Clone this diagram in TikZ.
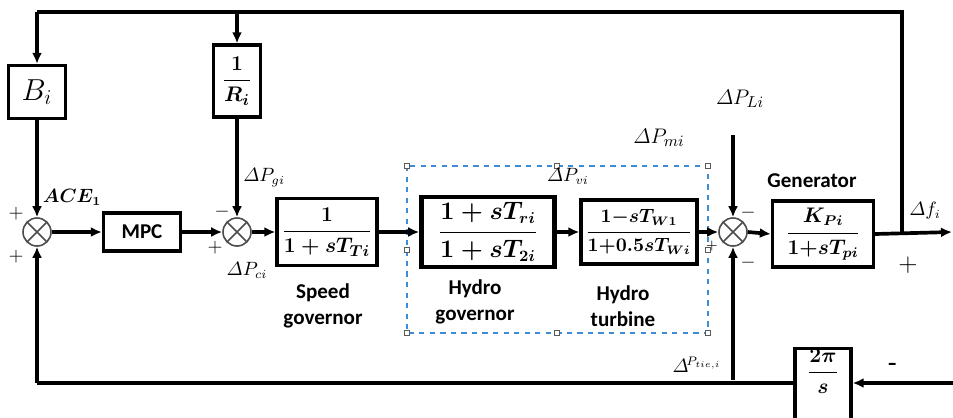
\documentclass[tikz,border=0pt]{standalone}
\usepackage{fontspec}
\setsansfont{Carlito}
\usepackage{amsmath}
\usepackage{bm}
\usetikzlibrary{arrows.meta}
\definecolor{dashblue}{RGB}{60,140,215}
\definecolor{handlegray}{RGB}{90,90,90}
\tikzset{
  blk/.style={draw, line width=1.9pt, fill=white, inner sep=0pt, align=center},
  sumnode/.style={circle, draw=black!70, line width=0.9pt, minimum size=0.56cm, inner sep=0pt,
    path picture={\draw[black!70, line width=0.9pt] (path picture bounding box.north west) -- (path picture bounding box.south east)
      (path picture bounding box.north east) -- (path picture bounding box.south west);}},
  conn/.style={line width=2.1pt},
  arr/.style={conn, -{Latex[length=2.2mm,width=2mm]}},
  lbl/.style={inner sep=0pt, font=\fontsize{10.5}{12}\selectfont},
  txt/.style={inner sep=0pt, align=center, font=\sffamily\bfseries\fontsize{12}{14.5}\selectfont},
  sgn/.style={inner sep=0pt, font=\fontsize{11}{12}\selectfont},
  handle/.style={draw=handlegray, fill=white, line width=0.5pt, minimum size=0.1cm, inner sep=0pt}
}
\begin{document}
\begin{tikzpicture}[x=0.02cm, y=-0.02cm]
\useasboundingbox (0,0) rectangle (953,417);

% dashed group frame
\draw[dashblue, dashed, line width=0.7pt] (407,166) rectangle (708,333);

% blocks
\node[blk, minimum width=1.14cm, minimum height=1.06cm, font=\fontsize{17}{18}\selectfont] (B) at (37,92) {$B_i$};
\node[blk, minimum width=0.94cm, minimum height=1.44cm, font=\fontsize{12.5}{14}\selectfont] (R) at (237,81) {$\bm{\dfrac{1}{R_i}}$};
\node[blk, minimum width=1.54cm, minimum height=0.76cm, font=\sffamily\bfseries\fontsize{12}{14}\selectfont] (mpc) at (142,232) {MPC};
\node[blk, minimum width=2.0cm, minimum height=1.34cm, font=\fontsize{12.5}{14}\selectfont] (sg) at (327,232) {$\bm{\dfrac{1}{1+sT_{Ti}}}$};
\node[blk, line width=2.6pt, minimum width=2.66cm, minimum height=1.4cm, font=\fontsize{13.5}{15}\selectfont] (hg) at (488,232) {$\bm{\dfrac{1+sT_{ri}}{1+sT_{2i}}}$};
\node[blk, minimum width=2.32cm, minimum height=1.28cm, font=\fontsize{10.5}{12}\selectfont] (ht) at (639,232) {$\bm{\dfrac{1{-}sT_{W1}}{1{+}0.5sT_{Wi}}}$};
\node[blk, minimum width=2.02cm, minimum height=1.32cm, font=\fontsize{11.5}{13}\selectfont] (gen) at (823,234) {$\bm{\dfrac{K_{Pi}}{1{+}sT_{pi}}}$};
\node[blk, minimum width=1.12cm, minimum height=1.56cm, anchor=north, font=\fontsize{12}{14}\selectfont] (tf) at (823,347) {$\bm{\dfrac{2\pi}{s}}$\\[0.5cm]};

% summing junctions
\node[sumnode] (s1) at (37,232) {};
\node[sumnode] (s2) at (237,232) {};
\node[sumnode] (s3) at (733,232) {};

% coordinates
\coordinate (tl) at (37,12);
\coordinate (tm) at (237,12);
\coordinate (tr) at (902,12);
\coordinate (br) at (902,232);
\coordinate (out) at (952,232);
\coordinate (pl) at (733,135);
\coordinate (inr) at (953,383);
\coordinate (bl) at (37,383);
\coordinate (bt) at (733,380);

% connectors
\draw[conn] (br) -- (tr) -- (tl);
\draw[arr] (tl) -- (B.north);
\draw[arr] (tm) -- (R.north);
\draw[arr] (B.south) -- (s1.north);
\draw[arr] (R.south) -- (s2.north);
\draw[arr] (s1.east) -- (mpc.west);
\draw[arr] (mpc.east) -- (s2.west);
\draw[arr] (s2.east) -- (sg.west);
\draw[arr] (sg.east) -- (hg.west);
\draw[arr] (hg.east) -- (ht.west);
\draw[arr] (ht.east) -- (s3.west);
\draw[arr] (s3.east) -- (gen.west);
\draw[arr] (gen.east) -- (out);
\draw[arr] (pl) -- (s3.north);
\draw[arr] (inr) -- (tf.east |- inr);
\draw[conn] (tf.west |- inr) -- (bl);
\draw[arr] (bl) -- (s1.south);
\draw[arr] (bt) -- (s3.south);

% selection handles
\foreach \hx/\hy [count=\k] in {407/166, 557/166, 708/166, 407/250, 708/250, 407/333, 557/333, 708/333}
  \node[handle] (h\k) at (\hx,\hy) {};

% labels
\node[lbl] (ace) at (72,197) {$\bm{ACE_1}$};
\node[sgn] (p1) at (16,214) {$+$};
\node[sgn] (p2) at (16,257) {$+$};
\node[lbl, anchor=west] (pgi) at (243,178) {$\varDelta P_{gi}$};
\node[sgn] (m2) at (222,212) {$-$};
\node[sgn] (p3) at (215,248) {$+$};
\node[lbl] (pci) at (247,270) {$\varDelta P_{ci}$};
\node[txt] (sgt) at (323,306) {Speed\\governor};
\node[txt] (hgt) at (475,302) {Hydro\\governor};
\node[txt] (htt) at (623,306) {Hydro\\turbine};
\node[lbl] (pvi) at (568,176) {$\varDelta P_{vi}$};
\node[lbl, font=\fontsize{12.5}{14}\selectfont] (pmi) at (659,138) {$\varDelta P_{mi}$};
\node[lbl, font=\fontsize{12.5}{14}\selectfont] (pli) at (740,99) {$\varDelta P_{Li}$};
\node[sgn] (m3a) at (748,213) {$-$};
\node[sgn] (m3b) at (748,263) {$-$};
\node[sgn, font=\fontsize{8}{9}\selectfont] (p4) at (712,246) {$+$};
\node[txt] (gent) at (812,181) {Generator};
\node[lbl] (dfi) at (925,211) {$\varDelta f_i$};
\node[sgn, font=\fontsize{15}{16}\selectfont] (p5) at (908,265) {$+$};
\node[sgn, font=\bfseries\fontsize{13}{14}\selectfont] (m5) at (893,366) {-};
\node[lbl] (ptie) at (697,365) {$\varDelta^{\!P_{tie,i}}$};
\end{tikzpicture}
\end{document}
